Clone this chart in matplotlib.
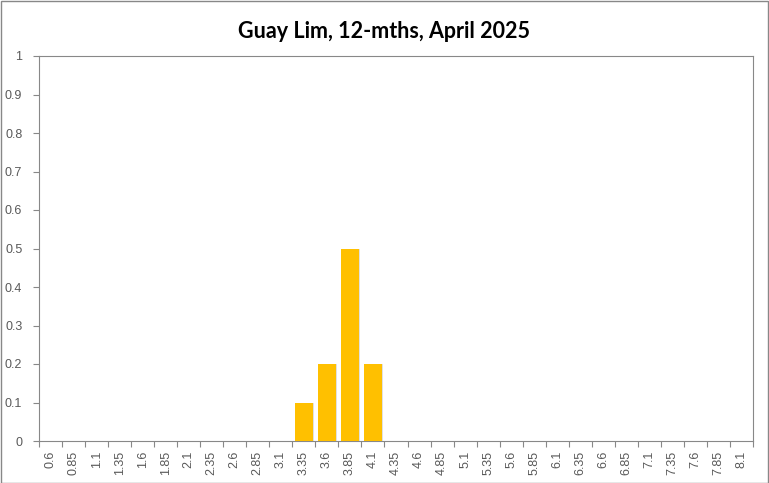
import matplotlib
matplotlib.use("Agg")
import matplotlib.pyplot as plt
import numpy as np

# category labels on the x axis
bins = ["0.6", "0.85", "1.1", "1.35", "1.6", "1.85", "2.1", "2.35", "2.6", "2.85",
        "3.1", "3.35", "3.6", "3.85", "4.1", "4.35", "4.6", "4.85", "5.1", "5.35",
        "5.6", "5.85", "6.1", "6.35", "6.6", "6.85", "7.1", "7.35", "7.6", "7.85", "8.1"]
# share of responses per bin
shares = [0, 0, 0, 0, 0, 0, 0, 0, 0, 0,
          0, 0.1, 0.2, 0.5, 0.2, 0, 0, 0, 0, 0,
          0, 0, 0, 0, 0, 0, 0, 0, 0, 0, 0]
yticks = [0, 0.1, 0.2, 0.3, 0.4, 0.5, 0.6, 0.7, 0.8, 0.9, 1]
ylabels = ["0", "0.1", "0.2", "0.3", "0.4", "0.5", "0.6", "0.7", "0.8", "0.9", "1"]

fig = plt.figure(figsize=(7.69, 4.83), dpi=100)
ax = fig.add_axes([39 / 769, 1 - 441 / 483, 714 / 769, 385 / 483])

x = np.arange(len(bins))
# faint shadow under each bar
ax.bar(x + 0.04, shares, width=0.78, color="#000000", alpha=0.12, zorder=2)
ax.bar(x, shares, width=0.78, color="#FFC000", zorder=3)

ax.set_xlim(-0.5, len(bins) - 0.5)
ax.set_ylim(0, 1)

ax.set_xticks(x)
ax.set_xticklabels(bins, rotation=90, fontsize=9, family="Liberation Sans", color="#595959")
ax.tick_params(axis="x", which="major", length=0, pad=7)
ax.set_xticks(np.arange(len(bins) + 1) - 0.5, minor=True)
ax.tick_params(axis="x", which="minor", length=4, color="#888888", width=0.8)

ax.set_yticks(yticks)
ax.set_yticklabels(ylabels, fontsize=9, family="Liberation Sans", color="#595959")
ax.tick_params(axis="y", length=4, color="#888888", width=0.8, pad=8)

for s in ax.spines.values():
    s.set_color("#888888")
    s.set_linewidth(0.8)

fig.text(0.5, 1 - 32 / 483, "Guay Lim, 12-mths, April 2025", ha="center", va="center",
         fontsize=15.5, fontweight="bold", family="Lato", color="#000000")

# outer frame of the chart
fig.patches.append(plt.Rectangle((0.001, 0.001), 0.998, 0.997, transform=fig.transFigure,
                                 fill=False, edgecolor="#888888", linewidth=1))

fig.savefig("out.png", dpi=100)
